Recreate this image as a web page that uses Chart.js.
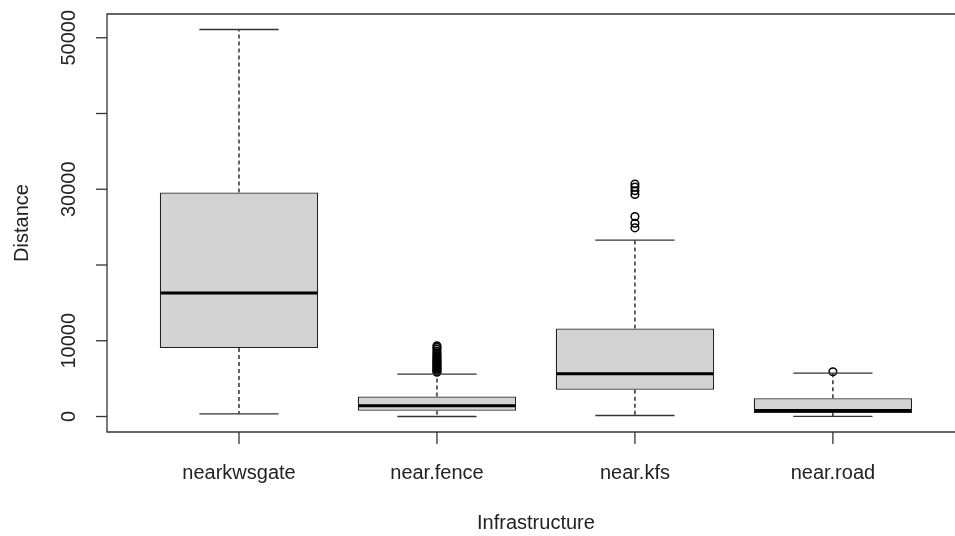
<!DOCTYPE html>
<html>
<head>
<meta charset="utf-8">
<script src="https://cdn.jsdelivr.net/npm/chart.js@4"></script>
<style>
  html, body { margin: 0; padding: 0; background: #fff; overflow: hidden; }
  canvas { display: block; }
</style>
</head>
<body>
<canvas id="box" width="955" height="536"></canvas>
<script>
// values
const categories = ['nearkwsgate', 'near.fence', 'near.kfs', 'near.road'];
const whiskerLow = [360, 0, 130, 30];
const q1 = [9030, 750, 3520, 450];
const median = [16290, 1410, 5640, 800];
const q3 = [29570, 2640, 11620, 2420];
const whiskerHigh = [51090, 5590, 23290, 5720];
const outliers = [
    [],
    [5850, 5980, 6100, 6250, 6400, 6550, 6700, 6850, 7000, 7150, 7300, 7450,
     7600, 7800, 8000, 8200, 8400, 8650, 8900, 9150, 9350],
    [30700, 30300, 29800, 29300, 26400, 25500, 24900],
    [5900]
];
const yTicks = [0, 10000, 20000, 30000, 40000, 50000];
const yTickLabels = ['0', '10000', '', '30000', '', '50000'];

const FONT = '20px "Liberation Sans", Arial, sans-serif';
const LINE = '#333';

const boxData = categories.map((c, i) => ({ x: i + 1, y: [q1[i], q3[i]] }));
const outlierData = [];
outliers.forEach((list, i) => list.forEach(v => outlierData.push({ x: i + 1, y: v })));

// whiskers, medians and the R-style axes, all placed through the chart scales
const rBoxPlot = {
    id: 'rBoxPlot',
    afterDatasetsDraw(chart) {
        const { ctx, chartArea: a, scales: { x, y } } = chart;
        ctx.save();
        ctx.strokeStyle = '#000';
        categories.forEach((c, i) => {
            const cx = x.getPixelForValue(i + 1);
            const half = x.getPixelForValue(i + 1.4) - cx;
            const capHalf = half / 2;
            ctx.lineWidth = 1.3;
            // dashed whiskers
            ctx.strokeStyle = '#111';
            ctx.setLineDash([4, 3]);
            ctx.beginPath();
            ctx.moveTo(cx, y.getPixelForValue(q3[i]));
            ctx.lineTo(cx, y.getPixelForValue(whiskerHigh[i]));
            ctx.moveTo(cx, y.getPixelForValue(q1[i]));
            ctx.lineTo(cx, y.getPixelForValue(whiskerLow[i]));
            ctx.stroke();
            ctx.setLineDash([]);
            // caps
            ctx.strokeStyle = LINE;
            ctx.beginPath();
            ctx.moveTo(cx - capHalf, y.getPixelForValue(whiskerHigh[i]));
            ctx.lineTo(cx + capHalf, y.getPixelForValue(whiskerHigh[i]));
            ctx.moveTo(cx - capHalf, y.getPixelForValue(whiskerLow[i]));
            ctx.lineTo(cx + capHalf, y.getPixelForValue(whiskerLow[i]));
            ctx.stroke();
            // median
            ctx.strokeStyle = '#000';
            ctx.lineWidth = 3;
            ctx.beginPath();
            ctx.moveTo(cx - half + 1, y.getPixelForValue(median[i]));
            ctx.lineTo(cx + half - 1, y.getPixelForValue(median[i]));
            ctx.stroke();
        });

        // frame (right side falls outside the picture)
        ctx.strokeStyle = LINE;
        ctx.lineWidth = 1.3;
        ctx.beginPath();
        ctx.moveTo(chart.width + 5, a.top);
        ctx.lineTo(a.left, a.top);
        ctx.lineTo(a.left, a.bottom);
        ctx.lineTo(chart.width + 5, a.bottom);
        ctx.stroke();

        ctx.fillStyle = '#222';
        ctx.font = FONT;

        // y axis
        yTicks.forEach((v, k) => {
            const py = y.getPixelForValue(v);
            ctx.beginPath();
            ctx.moveTo(a.left, py);
            ctx.lineTo(a.left - 11, py);
            ctx.stroke();
            if (yTickLabels[k]) {
                ctx.save();
                ctx.translate(75, py);
                ctx.rotate(-Math.PI / 2);
                ctx.textAlign = 'center';
                ctx.textBaseline = 'alphabetic';
                ctx.fillText(yTickLabels[k], 0, 0);
                ctx.restore();
            }
        });

        // x axis
        categories.forEach((c, i) => {
            const px = x.getPixelForValue(i + 1);
            ctx.beginPath();
            ctx.moveTo(px, a.bottom);
            ctx.lineTo(px, a.bottom + 12);
            ctx.stroke();
            ctx.textAlign = 'center';
            ctx.textBaseline = 'alphabetic';
            ctx.fillText(c, px, 479);
        });

        // axis titles
        ctx.textAlign = 'center';
        ctx.fillText('Infrastructure', x.getPixelForValue(2.5), 529);
        ctx.save();
        ctx.translate(28, (a.top + a.bottom) / 2);
        ctx.rotate(-Math.PI / 2);
        ctx.fillText('Distance', 0, 0);
        ctx.restore();
        ctx.restore();
    }
};

const config = {
    data: {
        datasets: [
            {
                type: 'bar',
                data: boxData,
                backgroundColor: '#d3d3d3',
                borderColor: '#222',
                borderWidth: 1.3,
                borderSkipped: false,
                barPercentage: 0.8,
                categoryPercentage: 1.0
            },
            {
                type: 'scatter',
                data: outlierData,
                pointStyle: 'circle',
                pointRadius: 3.8,
                pointBorderWidth: 1.5,
                pointBorderColor: '#000',
                pointBackgroundColor: 'rgba(0,0,0,0)'
            }
        ]
    },
    options: {
        responsive: false,
        devicePixelRatio: 1,
        animation: false,
        layout: { padding: { left: 107, top: 14, right: 0, bottom: 104 } },
        plugins: { legend: { display: false }, tooltip: { enabled: false } },
        scales: {
            x: {
                type: 'linear',
                display: false,
                offset: false,
                min: 0.3333,
                max: 4.589,
                afterBuildTicks: axis => {
                    axis.ticks = categories.map((c, i) => ({ value: i + 1 }));
                }
            },
            y: {
                type: 'linear',
                display: false,
                min: -2045,
                max: 53135
            }
        }
    },
    plugins: [rBoxPlot]
};

new Chart(document.getElementById('box').getContext('2d'), config);
</script>
</body>
</html>
